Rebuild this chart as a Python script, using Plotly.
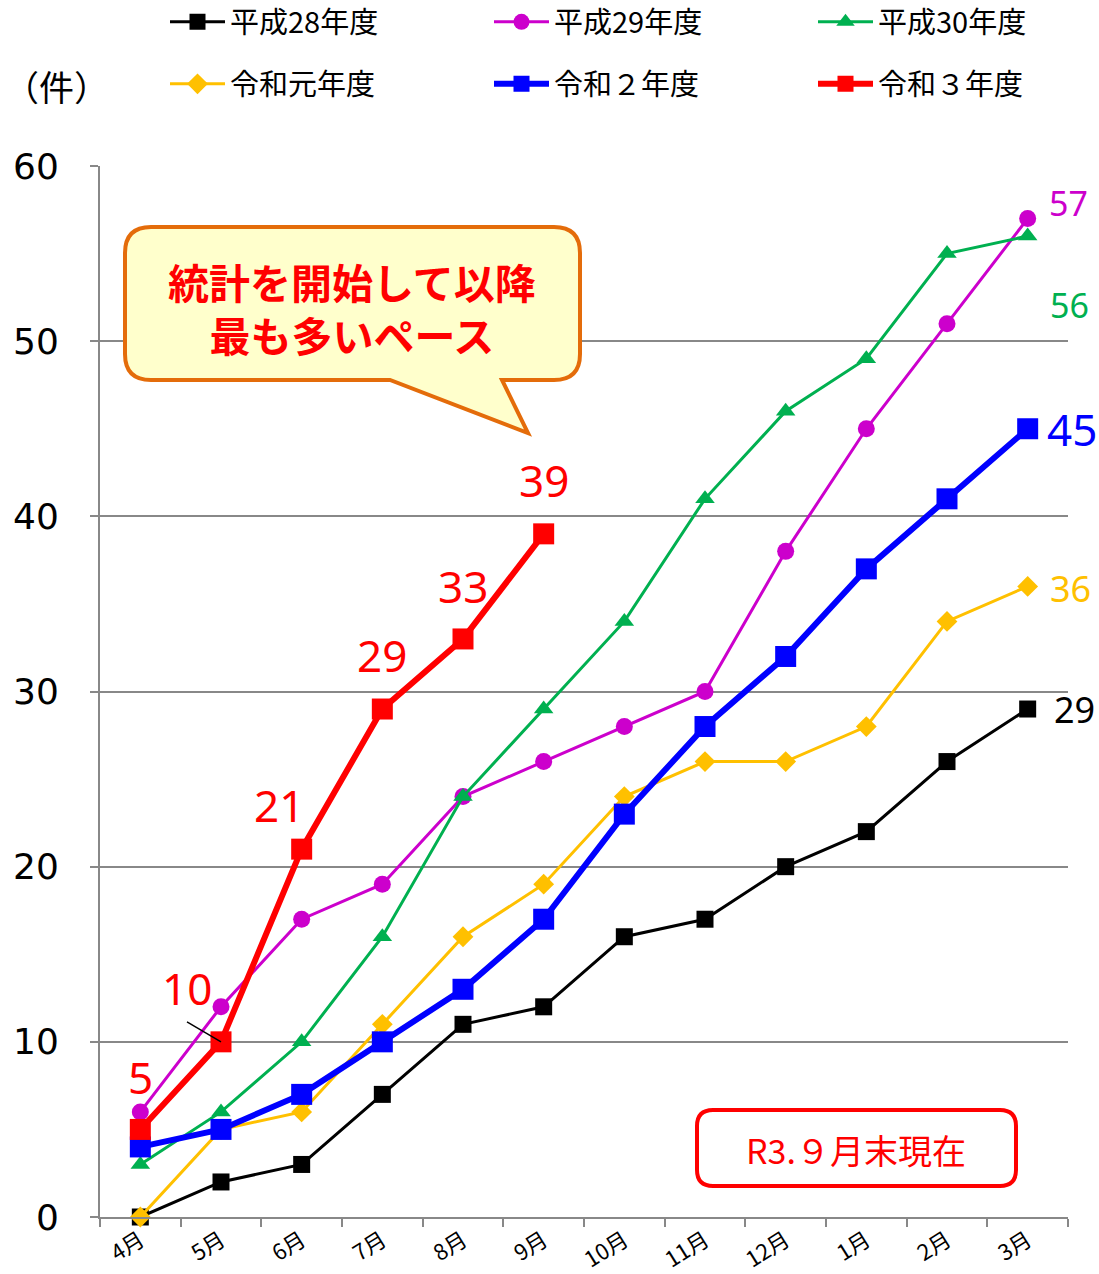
import plotly.graph_objects as go

months = ["4月", "5月", "6月", "7月", "8月", "9月", "10月", "11月", "12月", "1月", "2月", "3月"]
h28 = [0, 2, 3, 7, 11, 12, 16, 17, 20, 22, 26, 29]
h29 = [6, 12, 17, 19, 24, 26, 28, 30, 38, 45, 51, 57]
h30 = [3, 6, 10, 16, 24, 29, 34, 41, 46, 49, 55, 56]
r1 = [0, 5, 6, 11, 16, 19, 24, 26, 26, 28, 34, 36]
r2 = [4, 5, 7, 10, 13, 17, 23, 28, 32, 37, 41, 45]
r3 = [5, 10, 21, 29, 33, 39]
names = ["平成28年度", "平成29年度", "平成30年度", "令和元年度", "令和２年度", "令和３年度"]
y_ticks = [0, 10, 20, 30, 40, 50, 60]

W, H = 1099, 1274
ML, MR, MT, MB = 100, 31, 166, 57
PW, PH = W - ML - MR, H - MT - MB


def px(x):
    return (x - ML) / PW


def py(y):
    return (H - MB - y) / PH


JP = "Noto Sans CJK JP"
NUM = "Noto Sans"

series = [
    (h28, "#000000", "square", 17, 3),
    (h29, "#CC00CC", "circle", 17, 3),
    (h30, "#00B050", "triangle-up", 17, 3),
    (r1, "#FFC000", "diamond", 16, 3),
    (r2, "#0000FF", "square", 21, 6),
    (r3, "#FF0000", "square", 21, 6),
]

fig = go.Figure()
for i, (vals, col, sym, ms, lw) in enumerate(series):
    fig.add_trace(go.Scatter(
        x=months[:len(vals)], y=vals, name=names[i], mode="lines+markers",
        line=dict(color=col, width=lw),
        marker=dict(color=col, symbol=sym, size=ms),
        legend="legend" if i == 0 else f"legend{i+1}",
        showlegend=True,
        cliponaxis=False,
    ))

# legends: 2 rows x 3 columns
leg_cols = [165, 489, 813]
leg_rows = [22, 84]
for i in range(6):
    key = "legend" if i == 0 else f"legend{i+1}"
    fig.update_layout({key: dict(
        x=px(leg_cols[i % 3]), y=py(leg_rows[i // 3]), xanchor="left", yanchor="middle",
        bgcolor="rgba(0,0,0,0)", itemwidth=55, visible=True,
        font=dict(family=JP, size=29, color="#000000"),
    )})

ann = []
# red data labels
red_shift = [(0, 52), (-34, 54), (-23, 44), (0, 54), (0, 53), (0, 54)]
for i, v in enumerate(r3):
    ann.append(dict(x=months[i], y=v, xref="x", yref="y", text=str(v), showarrow=False,
                    xshift=red_shift[i][0], yshift=red_shift[i][1],
                    font=dict(family=NUM, size=44, color="#FF0000")))

# end labels
ends = [
    (h29, "#CC00CC", 34, 19, 16),
    (h30, "#00B050", 34, 20, -69),
    (r2, "#0000FF", 44, 17, 0),
    (r1, "#FFC000", 36, 20, -2),
    (h28, "#000000", 36, 24, 0),
]
for vals, col, fs, dx, dy in ends:
    ann.append(dict(x=months[len(vals) - 1], y=vals[-1], xref="x", yref="y", text=str(vals[-1]),
                    showarrow=False, xanchor="left", xshift=dx, yshift=dy,
                    font=dict(family=NUM, size=fs, color=col)))

ann.append(dict(x=px(56), y=py(86), xref="paper", yref="paper", text="（件）", showarrow=False,
                xanchor="center", yanchor="middle",
                font=dict(family=JP, size=35, color="#000000")))
ann.append(dict(x=px(352), y=py(307), xref="paper", yref="paper",
                text="<b>統計を開始して以降<br>最も多いペース</b>", showarrow=False,
                xanchor="center", yanchor="middle",
                font=dict(family=JP, size=41, color="#FF0000")))
ann.append(dict(x=px(856), y=py(1149), xref="paper", yref="paper",
                text="R3.９月末現在", showarrow=False,
                xanchor="center", yanchor="middle",
                font=dict(family=JP, size=34, color="#FF0000")))


def path_pts(cmds):
    out = []
    for c in cmds:
        if isinstance(c, str):
            out.append(c)
        else:
            out.append(f"{px(c[0]):.5f},{py(c[1]):.5f}")
    return " ".join(out)


# callout bubble
L, R, T, B, r = 125, 580, 227, 380, 26
bubble = path_pts([
    "M", (L + r, T), "L", (R - r, T), "Q", (R, T), (R, T + r), "L", (R, B - r),
    "Q", (R, B), (R - r, B), "L", (502, B), "L", (528, 433), "L", (390, B),
    "L", (L + r, B), "Q", (L, B), (L, B - r), "L", (L, T + r), "Q", (L, T), (L + r, T), "Z",
])
L2, R2, T2, B2, r2_ = 697, 1016, 1110, 1186, 16
box = path_pts([
    "M", (L2 + r2_, T2), "L", (R2 - r2_, T2), "Q", (R2, T2), (R2, T2 + r2_), "L", (R2, B2 - r2_),
    "Q", (R2, B2), (R2 - r2_, B2), "L", (L2 + r2_, B2), "Q", (L2, B2), (L2, B2 - r2_),
    "L", (L2, T2 + r2_), "Q", (L2, T2), (L2 + r2_, T2), "Z",
])

shapes = [
    dict(type="path", path=bubble, xref="paper", yref="paper",
         line=dict(color="#E46C0A", width=4), fillcolor="#FFFFCC", layer="above"),
    dict(type="path", path=box, xref="paper", yref="paper",
         line=dict(color="#FF0000", width=4), fillcolor="#FFFFFF", layer="above"),
    # leader line for the "10" label
    dict(type="line", xref="x", yref="y", xsizemode="pixel", ysizemode="pixel",
         xanchor=months[1], yanchor=r3[1], x0=-34, y0=20, x1=0, y1=0,
         line=dict(color="#000000", width=1.5), layer="above"),
]

fig.update_layout(
    width=W, height=H, showlegend=True,
    margin=dict(l=ML, r=MR, t=MT, b=MB, autoexpand=False),
    paper_bgcolor="#FFFFFF", plot_bgcolor="#FFFFFF",
    annotations=ann, shapes=shapes,
    font=dict(family=JP, color="#000000"),
    xaxis=dict(
        type="category", categoryorder="array", categoryarray=months,
        range=[-0.5, 11.5], tickson="boundaries",
        showline=True, linecolor="#888888", linewidth=2,
        ticks="outside", ticklen=8, tickcolor="#888888", tickwidth=2,
        showgrid=False, tickangle=-32,
        tickfont=dict(family=JP, size=22, color="#000000"),
    ),
    yaxis=dict(
        range=[0, 60], tickvals=y_ticks, ticktext=[str(v) for v in y_ticks],
        showline=True, linecolor="#888888", linewidth=2,
        ticks="outside", ticklen=8, tickcolor="#888888", tickwidth=2,
        showgrid=True, gridcolor="#888888", gridwidth=2, zeroline=False,
        tickfont=dict(family="DejaVu Sans", size=36, color="#000000"),
        ticklabelstandoff=24,
    ),
)

fig.write_html("out.html", config={"displayModeBar": False},
               post_script="document.body.style.margin='0px';document.body.style.padding='0px';")
